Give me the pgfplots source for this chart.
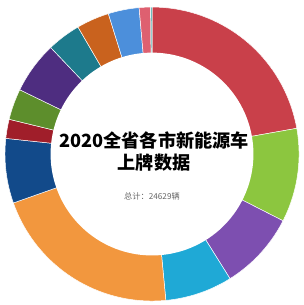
\documentclass[border=0pt]{standalone}
\usepackage{pgfplots}
\pgfplotsset{compat=1.18}
\usepackage{fontspec}
\newfontfamily\cjk{Noto Sans CJK SC}[BoldFont={Noto Sans CJK SC Black}]
\definecolor{cR}{HTML}{C9404A}
\definecolor{cG}{HTML}{8CC63F}
\definecolor{cP}{HTML}{7D4FB0}
\definecolor{cC}{HTML}{1FA9D6}
\definecolor{cO}{HTML}{F2973E}
\definecolor{cDB}{HTML}{124A8A}
\definecolor{cDR}{HTML}{A01E2A}
\definecolor{cOl}{HTML}{5D8E2C}
\definecolor{cDP}{HTML}{4E2D80}
\definecolor{cT}{HTML}{1D7A8C}
\definecolor{cBr}{HTML}{C9621E}
\definecolor{cB}{HTML}{4C8FDB}
\definecolor{cPk}{HTML}{DE6070}
\definecolor{cS}{HTML}{5BB5B5}
\def\data{22.2/cR, 10.3/cG, 8.6/cP, 7.4/cC, 21.1/cO, 7.1/cDB, 2.1/cDR, 3.4/cOl, 5.7/cDP, 3.7/cT, 3.6/cBr, 3.4/cB, 1.25/cPk, 0.15/cS}
\begin{document}
\begin{tikzpicture}
\begin{axis}[
  hide axis, scale only axis,
  width=9.09cm, height=9.15cm,
  xmin=-1.034, xmax=1.027, ymin=-1.027, ymax=1.048,
  clip=false]
\path (rel axis cs:0,0) rectangle (rel axis cs:1,1);
\gdef\cum{0}
\foreach \v/\c in \data {
  \pgfmathsetmacro\a{\cum*3.6}
  \pgfmathsetmacro\b{(\cum+\v)*3.6}
  \edef\tmp{\noexpand\addplot[fill=\c, draw=white, line width=0.4pt, domain=\a:\b, samples=40] ({sin(x)},{cos(x)}) -- (0,0) -- cycle;}
  \tmp
  \pgfmathsetmacro\cumnew{\cum+\v}
  \global\let\cum\cumnew
}
\addplot[fill=white, draw=none, domain=0:360, samples=150] ({0.69*cos(x)},{0.69*sin(x)}) -- cycle;
\node[font=\cjk\bfseries\fontsize{15.5}{19}\selectfont, align=center] at (0.014,0.095) {2020全省各市新能源车};
\node[font=\cjk\bfseries\fontsize{15.5}{19}\selectfont, align=center] at (0.014,-0.061) {上牌数据};
\node[font=\cjk\fontsize{7}{8}\selectfont, text=black!60] at (0.0,-0.286) {总计：24629辆};
\end{axis}
\end{tikzpicture}
\end{document}
